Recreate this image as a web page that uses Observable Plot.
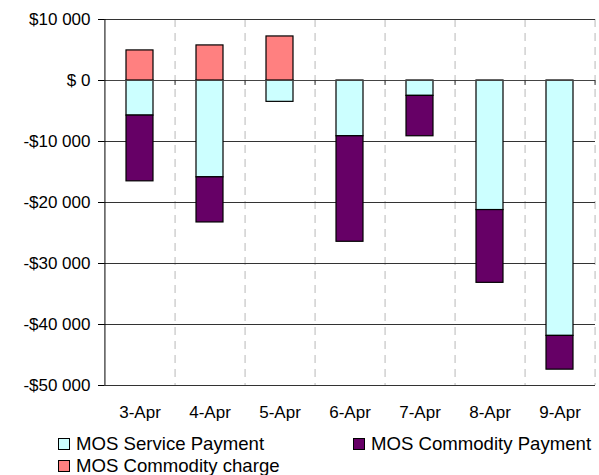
<!DOCTYPE html>
<html><head><meta charset="utf-8">
<script src="https://cdn.jsdelivr.net/npm/d3@7"></script>
<script src="https://cdn.jsdelivr.net/npm/@observablehq/plot@0.6"></script>
<style>
body{margin:0;background:#fff;font-family:"Liberation Sans",Arial,sans-serif;}
#wrap{position:relative;width:599px;height:475px;overflow:hidden;}
.leg{position:absolute;font-size:18.6px;line-height:16px;height:16px;color:#000;white-space:nowrap;}
.sw{position:absolute;left:0;top:2px;width:10px;height:10px;border:1px solid #000;}
.leg span.t{position:absolute;left:18px;top:0;}
</style>
</head><body>
<div id="wrap"></div>
<script>
const dates = ["3-Apr","4-Apr","5-Apr","6-Apr","7-Apr","8-Apr","9-Apr"];
const serviceValues = [-5750, -15870, -3500, -9140, -2520, -21240, -41870];
const commodityPaymentValues = [-10780, -7400, 0, -17300, -6620, -11930, -5530];
const commodityChargeValues = [4930, 5750, 7220, 0, 0, 0, 0];
const seriesNames = ["MOS Service Payment", "MOS Commodity Payment", "MOS Commodity charge"];
const seriesColors = ["#ccffff", "#660066", "#ff8080"];
const yTicks = [10000, 0, -10000, -20000, -30000, -40000, -50000];

const rows = [];
[serviceValues, commodityPaymentValues, commodityChargeValues].forEach((vals, s) => {
  vals.forEach((v, i) => { if (v !== 0) rows.push({date: dates[i], series: seriesNames[s], value: v}); });
});

const W = 599, H = 430, mL = 104, mR = 4, mT = 19, mB = 45;
const step = (W - mL - mR) / dates.length;
const fmt = v => v === 0 ? "$ 0" : (v < 0 ? "-" : "") + "$" + d3.format(",")(Math.abs(v)).replace(/,/g, " ");

const chart = Plot.plot({
  width: W, height: H,
  marginLeft: mL, marginRight: mR, marginTop: mT, marginBottom: mB,
  style: {fontFamily: '"Liberation Sans", Arial, sans-serif', fontSize: "17px", color: "#000", background: "#fff"},
  x: {domain: dates, paddingInner: 0.61, paddingOuter: 0.305, label: null},
  y: {domain: [-50000, 10000], label: null},
  color: {domain: seriesNames, range: seriesColors},
  marks: [
    Plot.ruleX(dates, {x: d => d, dx: step / 2, stroke: "#b8b8b8", strokeDasharray: "8,6"}),
    Plot.ruleY(yTicks, {stroke: "#333"}),
    Plot.barY(rows, Plot.stackY({x: "date", y: "value", fill: "series", stroke: "#000", strokeWidth: 1.2, order: null})),
    Plot.ruleY([0], {stroke: "#444"}),
    Plot.ruleX(dates, {x: d => d, dx: step / 2, y1: 0, y2: 0, insetBottom: -5, stroke: "#333"}),
    Plot.ruleX([dates[0]], {x: d => d, dx: -step / 2, stroke: "#000"}),
    Plot.axisY({ticks: yTicks, tickFormat: fmt, tickSize: 6, tickPadding: 8, stroke: "#000"}),
    Plot.axisX({tickSize: 0, tickPadding: 20})
  ]
});

const wrap = document.getElementById("wrap");
wrap.appendChild(chart);

const legendPos = [[58, 436], [353, 436], [58, 458]];
seriesNames.forEach((name, i) => {
  const d = document.createElement("div");
  d.className = "leg";
  d.style.left = legendPos[i][0] + "px";
  d.style.top = legendPos[i][1] + "px";
  const sw = document.createElement("span");
  sw.className = "sw";
  sw.style.background = seriesColors[i];
  const t = document.createElement("span");
  t.className = "t";
  t.textContent = name;
  d.appendChild(sw); d.appendChild(t);
  wrap.appendChild(d);
});
</script>
</body></html>
